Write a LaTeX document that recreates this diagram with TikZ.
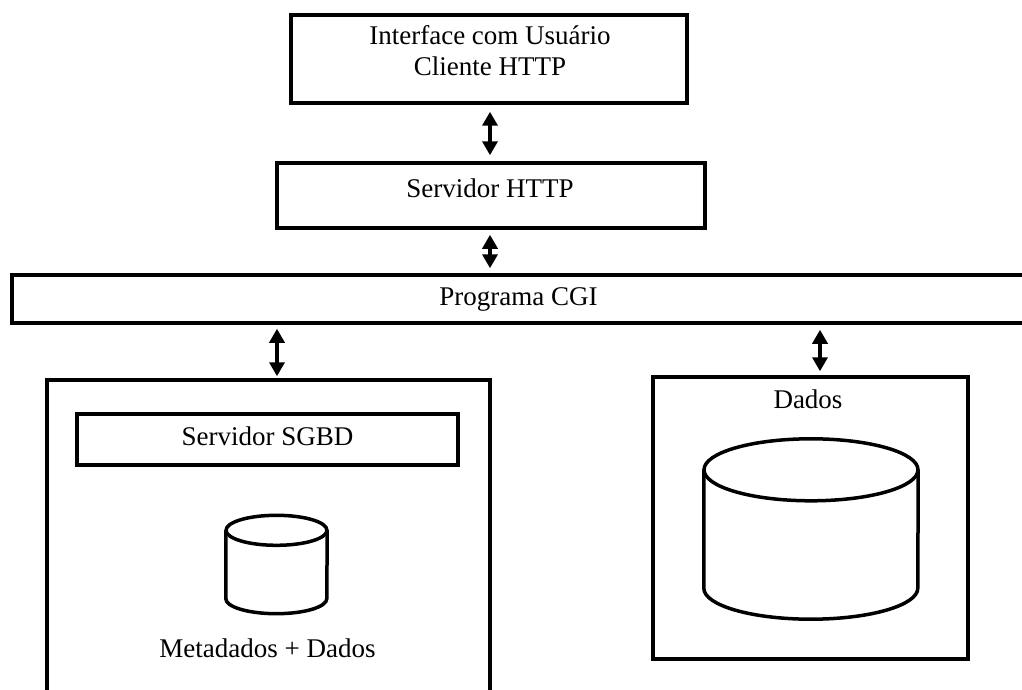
\documentclass[tikz,border=0pt]{standalone}
\usepackage{fontspec}
\setmainfont{Liberation Serif}
\usetikzlibrary{arrows.meta,calc}
\begin{document}
\begin{tikzpicture}[x=1pt,y=1pt,
  box/.style={draw=black,line width=3.5pt,fill=white,inner sep=0pt},
  lbl/.style={inner sep=0pt,anchor=base,font=\fontsize{27}{31}\selectfont,align=center},
  biarrow/.style={line width=3.5pt,{Triangle[width=15pt,length=14pt]}-{Triangle[width=15pt,length=14pt]}},
  cyl/.style={line width=3.5pt},
  hole/.style={inner sep=0pt,draw=none}]
\useasboundingbox[fill=white] (0,0) rectangle (1022,-690);
% boxes
\node[box,minimum width=396pt,minimum height=88pt] (ui) at (489,-59) {};
\node[box,minimum width=428pt,minimum height=65pt] (http) at (491,-195.5) {};
\node[box,minimum width=1018pt,minimum height=48pt] (cgi) at (521,-299) {};
\node[box,minimum width=443pt,minimum height=320pt] (left) at (268.5,-540) {};
\node[box,minimum width=315pt,minimum height=282pt] (right) at (810.5,-518) {};
\node[box,minimum width=381pt,minimum height=51pt] (sgbd) at (267.5,-439.5) {};
% labels
\node[lbl] (uitxt) at (490,-76) {Interface com Usuário\\Cliente HTTP};
\node[lbl] (httptxt) at (490,-197) {Servidor HTTP};
\node[lbl] (cgitxt) at (518.5,-305) {Programa CGI};
\node[lbl] (sgbdtxt) at (267.5,-445) {Servidor SGBD};
\node[lbl] (metatxt) at (267.5,-657) {Metadados + Dados};
\node[lbl] (dadostxt) at (808,-408) {Dados};
% cylinders
\node[hole,minimum width=101pt,minimum height=98pt] (db1) at (276.5,-564.5) {};
\draw[cyl] ($(db1.north)+(0,-15)$) ellipse [x radius=50.5, y radius=15];
\draw[cyl] ($(db1.north west)+(0,-15)$) -- ($(db1.south west)+(0,15)$)
  arc[start angle=180,end angle=360,x radius=50.5,y radius=15]
  -- ($(db1.north east)+(0,-15)$);
\node[hole,minimum width=214pt,minimum height=180pt] (db2) at (811,-529) {};
\draw[cyl] ($(db2.north)+(0,-31)$) ellipse [x radius=107, y radius=31];
\draw[cyl] ($(db2.north west)+(0,-31)$) -- ($(db2.south west)+(0,31)$)
  arc[start angle=180,end angle=360,x radius=107,y radius=31]
  -- ($(db2.north east)+(0,-31)$);
% arrows
\path ($(ui.south)+(1,0)$) coordinate (ua);
\draw[biarrow,shorten <=7pt,shorten >=6pt] (ua) -- (ua |- http.north);
\draw[biarrow,shorten <=5pt,shorten >=5pt] (ua |- http.south) -- (ua |- cgi.north);
\path ($(left.north)+(8.5,0)$) coordinate (la);
\path ($(right.north)+(9.5,0)$) coordinate (ra);
\draw[biarrow,shorten <=4pt,shorten >=2pt] (la |- cgi.south) -- (la);
\draw[biarrow,shorten <=5pt,shorten >=4pt] (ra |- cgi.south) -- (ra);
\end{tikzpicture}
\end{document}
